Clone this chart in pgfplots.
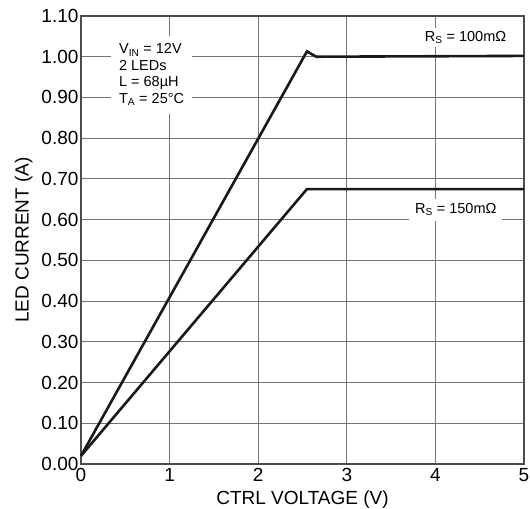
\documentclass[border=0pt]{standalone}
\usepackage{fontspec}
\setmainfont{Liberation Sans}
\usepackage{pgfplots}
\pgfplotsset{compat=1.18}
\begin{document}
\begin{tikzpicture}
\begin{axis}[
  scale only axis,
  width=443pt, height=448pt,
  xmin=0, xmax=5, ymin=0, ymax=1.10,
  xtick={0,1,2,3,4,5},
  ytick={0,0.1,0.2,0.3,0.4,0.5,0.6,0.7,0.8,0.9,1.0,1.1},
  /pgf/number format/assume math mode=true,
  yticklabel style={/pgf/number format/fixed, /pgf/number format/fixed zerofill, /pgf/number format/precision=2, xshift=1pt},
  xticklabel style={/pgf/number format/fixed, /pgf/number format/precision=0, yshift=-1pt},
  tick label style={font=\fontsize{19}{22}\selectfont},
  label style={font=\fontsize{19}{22}\selectfont},
  xlabel={CTRL VOLTAGE (V)},
  ylabel={LED CURRENT (A)},
  xlabel style={yshift=-1.5pt},
  ylabel style={yshift=2pt},
  major tick length=0pt,
  grid=major,
  grid style={draw=black!55, line width=1pt},
  axis line style={draw=black!70, line width=1.2pt},
  clip=false,
]
\addplot[black!90, line width=2.6pt, line join=miter] coordinates {
  (0,0.02) (2.55,1.013) (2.655,1.0) (5,1.002)
};
\addplot[black!90, line width=2.6pt, line join=miter] coordinates {
  (0,0.02) (2.55,0.675) (5,0.675)
};
\node[fill=white, align=left, inner xsep=8pt, inner ysep=8pt,
  font=\fontsize{14.5}{16.5}\selectfont] at (axis cs:0.797,0.956)
  {V\textsubscript{IN} = 12V\\2 LEDs\\L = 68µH\\T\textsubscript{A} = 25°C};
\node[fill=white, inner xsep=5pt, inner ysep=3pt,
  font=\fontsize{14.5}{16.5}\selectfont] at (axis cs:4.34,1.047)
  {R\textsubscript{S} = 100mΩ};
\node[fill=white, inner xsep=6pt, inner ysep=5pt,
  font=\fontsize{14.5}{16.5}\selectfont] at (axis cs:4.23,0.624)
  {R\textsubscript{S} = 150mΩ};
\coordinate (bbsw) at (rel axis cs:-0.1828,-0.0982);
\coordinate (bbne) at (rel axis cs:1.0135,1.0357);
\end{axis}
\pgfresetboundingbox
\path[use as bounding box] (bbsw) rectangle (bbne);
\end{tikzpicture}
\end{document}
